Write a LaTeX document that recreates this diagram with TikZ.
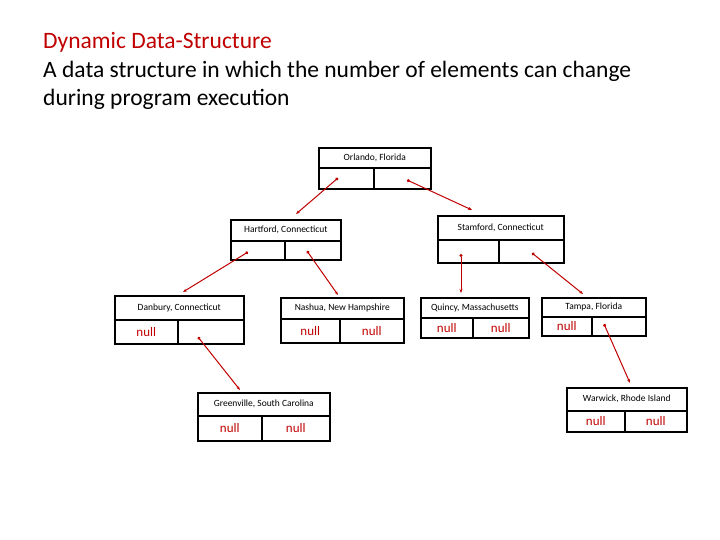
\documentclass[tikz,border=0pt]{standalone}
\usepackage{fontspec}
\setmainfont{Carlito}
\usetikzlibrary{arrows.meta}
\definecolor{tred}{RGB}{192,0,0}
\tikzset{cell/.style={draw,line width=1.6pt,inner sep=0pt,anchor=north west},
 lbl/.style={font=\fontsize{9.5}{10}\selectfont},
 nul/.style={font=\fontsize{13}{14}\selectfont,text=tred},
 ptr/.style={draw=tred,line width=1pt,{Circle[length=3pt]}-{Stealth[length=4pt]}}}
\newcommand{\rec}[9]{%
 \node[cell,minimum width={(#4-#2)*1pt},minimum height={(#5-#3)*1pt}] (#1t) at (#2,#3) {};
 \node[lbl] at (#1t.center) {#8};
 \node[cell,minimum width={(#7-#2)*1pt},minimum height={(#6-#5)*1pt}] (#1l) at (#2,#5) {};
 \node[cell,minimum width={(#4-#7)*1pt},minimum height={(#6-#5)*1pt}] (#1r) at (#7,#5) {};
 \ifx#9l\node[nul] at (#1l.center) {null};\fi
 \ifx#9b\node[nul] at (#1l.center) {null};\node[nul] at (#1r.center) {null};\fi
}
\begin{document}
\begin{tikzpicture}[x=1pt,y=-1pt]
\useasboundingbox (0,0) rectangle (720,540);
\node[anchor=base west,inner sep=0pt,text=tred,font=\fontsize{23.5}{28}\selectfont] (t1) at (43,49) {Dynamic Data-Structure};
\node[anchor=base west,inner sep=0pt,font=\fontsize{23.5}{28}\selectfont] (t2) at (43,78) {A data structure in which the number of elements can change};
\node[anchor=base west,inner sep=0pt,font=\fontsize{23.5}{28}\selectfont] (t3) at (43,106) {during program execution};
\rec{o}{318}{147}{430}{167}{188}{373}{Orlando, Florida}{-}
\rec{h}{230}{219}{340}{240}{259}{284}{Hartford, Connecticut}{-}
\rec{s}{437}{215}{563}{239}{262}{498}{Stamford, Connecticut}{-}
\rec{d}{114}{295}{243}{319}{343}{177}{Danbury, Connecticut}{l}
\rec{n}{280}{297}{403}{318}{342}{339}{Nashua, New Hampshire}{b}
\rec{q}{420}{297}{528}{317}{337}{472}{Quincy, Massachusetts}{b}
\rec{p}{541}{297}{645}{316}{335}{591}{Tampa, Florida}{l}
\rec{g}{197}{392}{329}{415}{440}{261}{Greenville, South Carolina}{b}
\rec{w}{566}{387}{686}{410}{431}{624}{Warwick, Rhode Island}{b}
\coordinate (e1) at (296,214);
\coordinate (e2) at (472,210);
\coordinate (e3) at (183,292);
\coordinate (e4) at (338,295);
\coordinate (e5) at (240,390);
\coordinate (e6) at (461,293);
\coordinate (e7) at (583,294);
\coordinate (e8) at (630,383);
\draw[ptr] (338,178) -- (e1);
\draw[ptr] (407,180) -- (e2);
\draw[ptr] (248,252) -- (e3);
\draw[ptr] (307,251) -- (e4);
\draw[ptr] (198,337) -- (e5);
\draw[ptr] (461,254) -- (e6);
\draw[ptr] (532,253) -- (e7);
\draw[ptr] (604,324) -- (e8);
\end{tikzpicture}
\end{document}
